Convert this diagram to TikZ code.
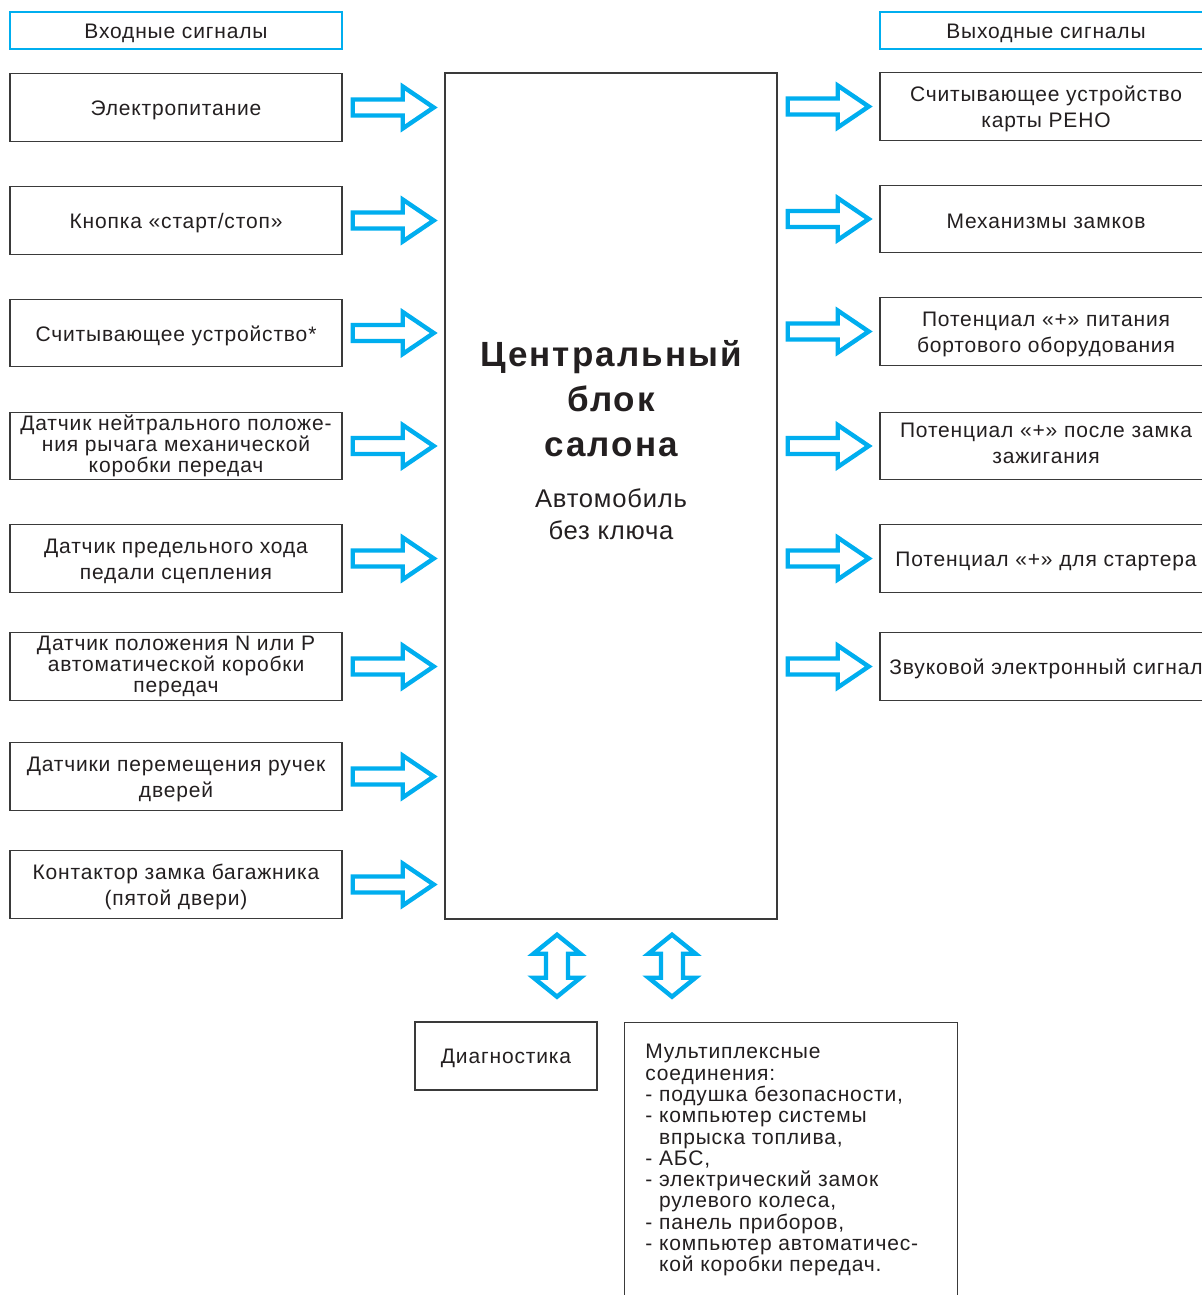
\documentclass[tikz,border=0pt]{standalone}
\usepackage{fontspec}
\setmainfont{Liberation Sans}[LetterSpace=4]
\newfontfamily\titlefont{Liberation Sans}[LetterSpace=6]
\newfontfamily\subfont{Liberation Sans}[LetterSpace=3]
\usetikzlibrary{calc}
\definecolor{cy}{HTML}{00AEEF}
\definecolor{ln}{HTML}{3A3A3A}
\definecolor{tx}{HTML}{231F20}
\tikzset{
  box/.style={draw=ln, line width=0.7pt, minimum width=166pt, minimum height=33.75pt, inner sep=0pt},
  boxtext/.style={align=center, text=tx, inner sep=0pt, font=\fontsize{10.5pt}{13pt}\selectfont},
  dense/.style={font=\fontsize{10.5pt}{10.5pt}\selectfont},
  t/.style={label={[boxtext, yshift=-1.4pt]center:{#1}}},
  td/.style={label={[boxtext, dense]center:{#1}}},
  hdr/.style={box, draw=cy, minimum height=18.5pt},
  arr/.style={draw=cy, line width=2.2pt, line join=miter, fill=white},
  rarrow/.pic={\draw[arr] (0,-8) -- (50,-8) -- (50,-21) -- (81,0) -- (50,21) -- (50,8) -- (0,8) -- cycle;},
  vdarrow/.pic={\draw[arr] (0,-31) -- (23.5,-12) -- (11,-12) -- (11,12) -- (23.5,12) -- (0,31)
     -- (-23.5,12) -- (-11,12) -- (-11,-12) -- (-23.5,-12) -- cycle;}
}
\begin{document}
\begin{tikzpicture}[x=0.5pt,y=-0.5pt]
\useasboundingbox[fill=white] (0,0) rectangle (1202,1295);
\clip (0,0) rectangle (1202,1295);
% headers
\node[hdr, t={Входные сигналы}] (hin) at (176,30.5) {};
\node[hdr, t={Выходные сигналы}] (hout) at (1046,30.5) {};
% central block
\node[draw=ln, line width=0.7pt, minimum width=166pt, minimum height=423pt, inner sep=0pt] (central) at (611,496) {};
\node[align=center, text=tx, inner sep=0pt, font=\titlefont\bfseries\fontsize{17.5pt}{22.5pt}\selectfont] (title) at (611,399) {Центральный\\блок\\салона};
\node[align=center, text=tx, inner sep=0pt, font=\subfont\fontsize{12.8pt}{16pt}\selectfont] (sub) at (611,514) {Автомобиль\\без ключа};
% inputs
\node[box, t={Электропитание}] (in1) at (176,107.5) {};
\node[box, t={Кнопка «старт/стоп»}] (in2) at (176,220.5) {};
\node[box, t={Считывающее устройство*}] (in3) at (176,333) {};
\node[box, td={Датчик нейтрального положе-\\ния рычага механической\\коробки передач}] (in4) at (176,446) {};
\node[box, t={Датчик предельного хода\\педали сцепления}] (in5) at (176,558.5) {};
\node[box, td={Датчик положения N или P\\автоматической коробки\\передач}] (in6) at (176,666.5) {};
\node[box, t={Датчики перемещения ручек\\дверей}] (in7) at (176,776.5) {};
\node[box, t={Контактор замка багажника\\(пятой двери)}] (in8) at (176,884.5) {};
% outputs
\node[box, t={Считывающее устройство\\карты РЕНО}] (out1) at (1046,106.5) {};
\node[box, t={Механизмы замков}] (out2) at (1046,219) {};
\node[box, t={Потенциал «+» питания\\бортового оборудования}] (out3) at (1046,331.5) {};
\node[box, label={[boxtext, yshift=1.2pt]center:{Потенциал «+» после замка\\зажигания}}] (out4) at (1046,446) {};
\node[box, t={Потенциал «+» для стартера}] (out5) at (1046,558.5) {};
\node[box, t={Звуковой электронный сигнал}] (out6) at (1046,666.5) {};
% bottom
\node[box, minimum width=91pt, minimum height=34pt, t={Диагностика}] (diag) at (506,1056) {};
\node[box, anchor=north west, minimum width=166.5pt, minimum height=160pt] (mux) at (624,1022) {};
\node[anchor=north west, align=left, inner sep=0pt, text=tx, font=\fontsize{10.5pt}{10.65pt}\selectfont] (muxt) at ($(mux.north west)+(21,22)$)
 {Мультиплексные\\соединения:\\- подушка безопасности,\\- компьютер системы\\\phantom{- }впрыска топлива,\\- АБС,\\- электрический замок\\\phantom{- }рулевого колеса,\\- панель приборов,\\- компьютер автоматичес-\\\phantom{- }кой коробки передач.};
% arrows
\foreach \i in {1,...,8} { \pic at ($(in\i.east)+(10,0)$) {rarrow}; }
\foreach \i in {1,...,6} { \pic at ($(central.east |- out\i.west)+(10,0)$) {rarrow}; }
\pic at ($(central.south)+(-54,46)$) {vdarrow};
\pic at ($(central.south)+(61,46)$) {vdarrow};
\end{tikzpicture}
\end{document}
